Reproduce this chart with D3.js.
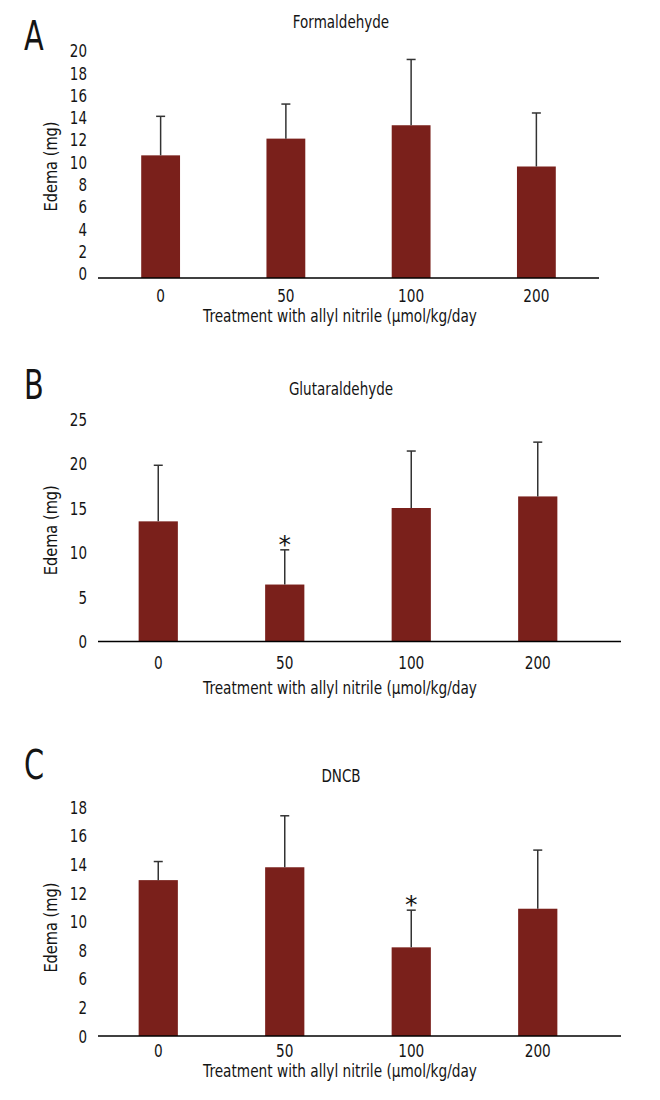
<!DOCTYPE html>
<html>
<head>
<meta charset="utf-8">
<script src="https://cdn.jsdelivr.net/npm/d3@7"></script>
<style>
  html, body { margin: 0; padding: 0; background: #fff; }
  svg text { font-family: "DejaVu Sans", sans-serif; fill: #141414; }
</style>
</head>
<body>
<svg id="chart" width="660" height="1100"></svg>
<script>
// ---------------- data ----------------
const categories = ["0", "50", "100", "200"];

const titleA = "Formaldehyde";
const meansA = [11.0, 12.5, 13.7, 10.0];
const sdA    = [3.5, 3.1, 5.9, 4.8];
const ticksA = [0, 2, 4, 6, 8, 10, 12, 14, 16, 18, 20];
const starsA = ["", "", "", ""];

const titleB = "Glutaraldehyde";
const meansB = [13.5, 6.4, 15.0, 16.3];
const sdB    = [6.3, 3.9, 6.4, 6.1];
const ticksB = [0, 5, 10, 15, 20, 25];
const starsB = ["", "*", "", ""];

const titleC = "DNCB";
const meansC = [12.9, 13.8, 8.2, 10.9];
const sdC    = [1.3, 3.6, 2.6, 4.1];
const ticksC = [0, 2, 6, 8, 10, 12, 14, 16, 18];   // as printed (no "4")
const starsC = ["", "", "*", ""];

const yTitle = "Edema (mg)";
const xTitle = "Treatment with allyl nitrile (µmol/kg/day";

// ---------------- drawing ----------------
const svg = d3.select("#chart");
svg.append("rect").attr("width", 660).attr("height", 1100).attr("fill", "#fff");

const barColor = "#7a201b";
const errColor = "#333";

// horizontally condense text to mimic a condensed typeface
function condense(sel, f) {
  sel.each(function () {
    const w = this.getComputedTextLength();
    d3.select(this).attr("textLength", w * f).attr("lengthAdjust", "spacingAndGlyphs");
  });
}

function panel(cfg) {
  const g = svg.append("g");
  const x = d3.scaleBand().domain(categories).range(cfg.xRange).paddingInner(0.69).paddingOuter(0.345);
  // y scale: tick values mapped to evenly spaced positions (piecewise linear)
  const y = d3.scaleLinear()
    .domain(cfg.ticks)
    .range(cfg.ticks.map((d, i) => cfg.y0 - i * cfg.step));

  // letter
  g.append("text").attr("x", 24).attr("y", cfg.letterY)
    .style("font-size", "40px").text(cfg.letter).call(condense, 0.72);
  // title
  g.append("text").attr("x", 341).attr("y", cfg.titleY).attr("text-anchor", "middle")
    .style("font-size", "18px").text(cfg.title).call(condense, 0.75);

  // y axis labels
  const ya = g.append("g").attr("transform", `translate(98,0)`)
    .call(d3.axisLeft(y).tickValues(cfg.ticks).tickSize(0).tickPadding(11));
  ya.select(".domain").remove();
  ya.selectAll("text").style("font-size", "17.5px").attr("dy", cfg.yDy)
    .style("font-family", null).attr("fill", "#141414").call(condense, 0.77);

  // y title
  g.append("text")
    .attr("transform", `translate(57,${(cfg.y0 + y(cfg.ticks[cfg.ticks.length - 1])) / 2 + cfg.yTitleShift}) rotate(-90)`)
    .attr("text-anchor", "middle").style("font-size", "18px").text(yTitle).call(condense, 0.81);

  const data = categories.map((c, i) => ({ c, m: cfg.means[i], s: cfg.sd[i], star: cfg.stars[i] }));

  // bars
  g.selectAll("rect.bar").data(data).join("rect").attr("class", "bar")
    .attr("x", d => x(d.c)).attr("width", x.bandwidth())
    .attr("y", d => y(d.m)).attr("height", d => y(0) - y(d.m))
    .attr("fill", barColor);

  // error bars (upper)
  const eb = g.selectAll("g.err").data(data).join("g").attr("class", "err");
  eb.append("line")
    .attr("x1", d => x(d.c) + x.bandwidth() / 2).attr("x2", d => x(d.c) + x.bandwidth() / 2)
    .attr("y1", d => y(d.m)).attr("y2", d => y(d.m + d.s))
    .attr("stroke", errColor).attr("stroke-width", 1.5);
  eb.append("line")
    .attr("x1", d => x(d.c) + x.bandwidth() / 2 - 4.5).attr("x2", d => x(d.c) + x.bandwidth() / 2 + 4.5)
    .attr("y1", d => y(d.m + d.s)).attr("y2", d => y(d.m + d.s))
    .attr("stroke", errColor).attr("stroke-width", 1.5);

  // stars
  g.selectAll("text.star").data(data.filter(d => d.star)).join("text").attr("class", "star")
    .attr("x", d => x(d.c) + x.bandwidth() / 2).attr("y", d => y(d.m + d.s) + 3)
    .attr("text-anchor", "middle").style("font-size", "25px").text(d => d.star);

  // x axis line
  g.append("line").attr("x1", 98).attr("x2", cfg.axisEnd)
    .attr("y1", y(0)).attr("y2", y(0)).attr("stroke", "#000").attr("stroke-width", 1.6);

  // x tick labels
  const xa = g.append("g").attr("transform", `translate(0,${y(0)})`)
    .call(d3.axisBottom(x).tickSize(0).tickPadding(0));
  xa.select(".domain").remove();
  xa.selectAll("text").style("font-size", "17.5px").attr("y", cfg.xTickOff).attr("dy", 0)
    .style("font-family", null).attr("fill", "#141414").call(condense, 0.78);

  // x title
  g.append("text").attr("x", 340).attr("y", cfg.xTitleY).attr("text-anchor", "middle")
    .style("font-size", "18px").text(xTitle).call(condense, 0.76);
}

panel({ letter: "A", letterY: 50, title: titleA, titleY: 28,
  means: meansA, sd: sdA, ticks: ticksA, stars: starsA,
  y0: 278, step: 22.3, yDy: "0.1em", yTitleShift: 0, xRange: [98, 599], axisEnd: 599,
  xTickOff: 23.5, xTitleY: 322 });

panel({ letter: "B", letterY: 399, title: titleB, titleY: 395,
  means: meansB, sd: sdB, ticks: ticksB, stars: starsB,
  y0: 641.5, step: 44.5, yDy: "0.35em", yTitleShift: 0, xRange: [95, 601], axisEnd: 621,
  xTickOff: 27.5, xTitleY: 694 });

panel({ letter: "C", letterY: 779, title: titleC, titleY: 782,
  means: meansC, sd: sdC, ticks: ticksC, stars: starsC,
  y0: 1036, step: 28.6, yDy: "0.35em", yTitleShift: 6, xRange: [95, 601], axisEnd: 621,
  xTickOff: 21, xTitleY: 1077 });
</script>
</body>
</html>
